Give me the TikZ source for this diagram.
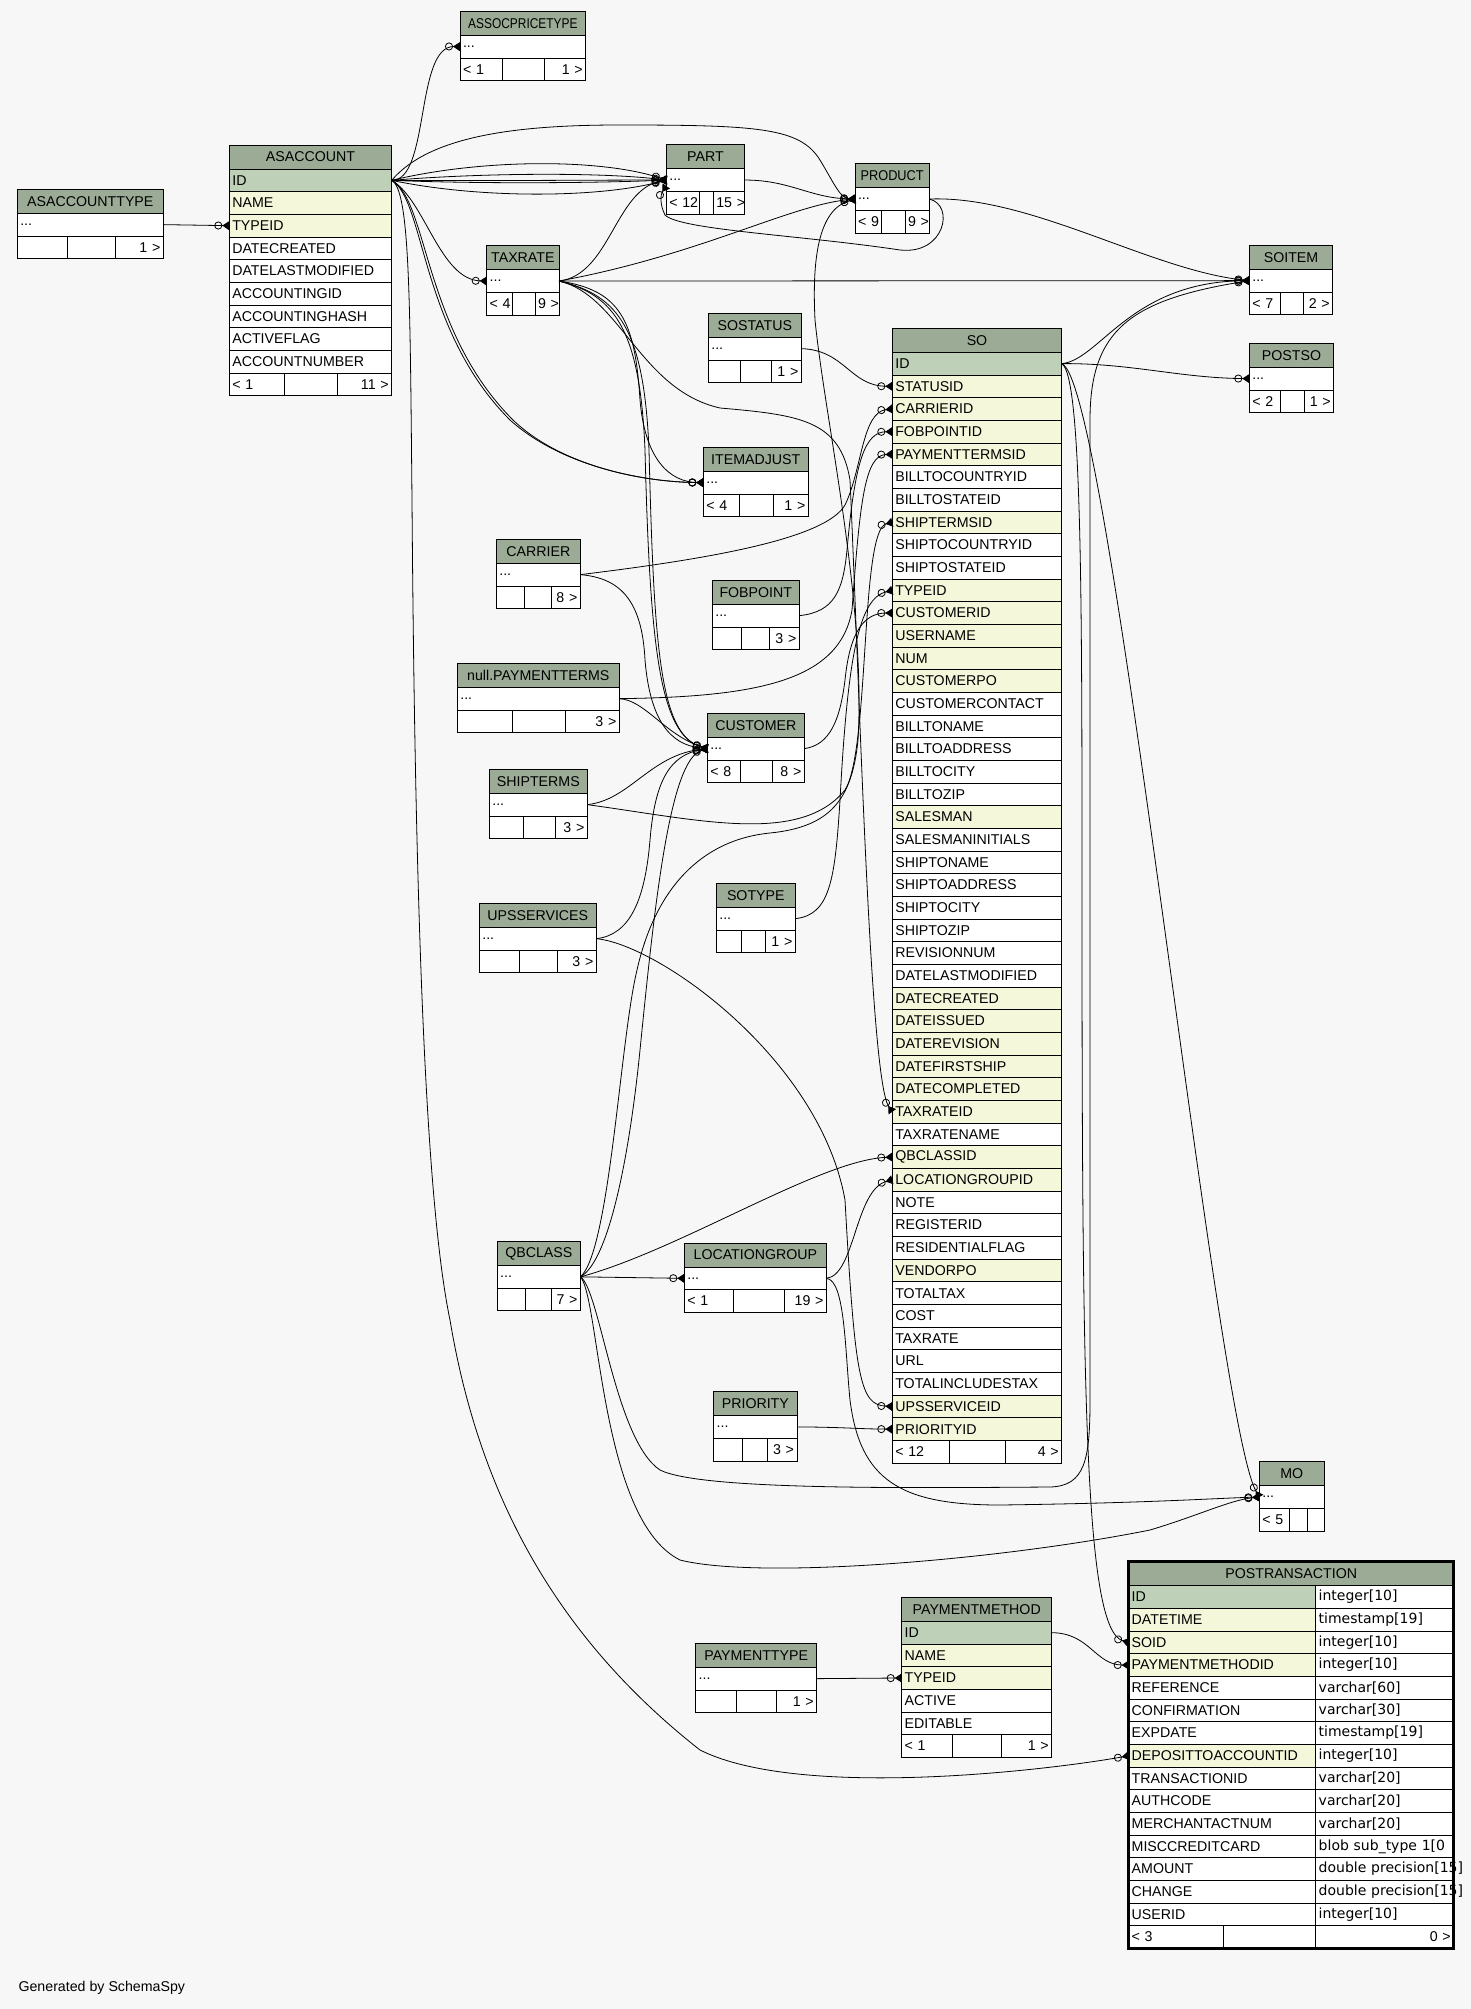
\documentclass[tikz,border=0pt]{standalone}
\usepackage{graphicx}
\usepackage{fontspec}
\setmainfont{Liberation Sans}
\newfontfamily\typefont{DejaVu Sans}
\usetikzlibrary{arrows.meta,positioning}
\definecolor{SchemaBg}{HTML}{F7F7F7}
\definecolor{HeadGreen}{HTML}{9BAB96}
\definecolor{KeyGreen}{HTML}{BED1B8}
\definecolor{IndexYellow}{HTML}{F4F7DA}

% footer of a table: three cells under the node #2
\newcommand\footcells[8]{%
  \pgfmathsetmacro\wa{#4-#3-6}%
  \pgfmathsetmacro\wb{#5-#4-6}%
  \pgfmathsetmacro\wc{#6-#5-6}%
  \node[tblrow,fill=white,text width=\wa pt,anchor=north west] (#1-fl) at (#2.south west) {\mbox{#7}};
  \node[tblrow,fill=white,text width=\wb pt,anchor=west] (#1-fm) at (#1-fl.east) {};
  \node[tblrow,fill=white,text width=\wc pt,align=right,anchor=west] (#1-fr) at (#1-fm.east) {\mbox{#8}};
}
% collapsed table: name, x, y, width, title, dividers, footer texts
\newcommand\minitbl[9]{%
  \pgfmathsetmacro\tw{#4-6}%
  \node[tblhead,text width=\tw pt] (#1) at (#2,#3) {#5};
  \node[tblrow,fill=white,text width=\tw pt,below=0pt of #1] (#1-row) {...};
  \pgfmathsetmacro\rx{#2+#4}%
  \footcells{#1}{#1-row}{#2}{#6}{#7}{\rx}{#8}{#9}%
}

\begin{document}
\begin{tikzpicture}[x=1pt,y=-1pt,
    tblhead/.style={draw,fill=HeadGreen,line width=0.8pt,anchor=north west,
      minimum height=24pt,inner xsep=3pt,inner ysep=0pt,outer sep=0pt,
      align=center,font=\fontsize{14.2}{16}\selectfont},
    tblrow/.style={draw,line width=0.8pt,minimum height=22.67pt,
      inner xsep=3pt,inner ysep=0pt,outer sep=0pt,align=left,
      font=\fontsize{14.2}{16}\selectfont},
    fk/.style={draw,line width=0.8pt,
      -{Circle[open,length=8pt,width=8pt]Triangle[reversed,length=7pt,width=9pt]}}
  ]
  \fill[SchemaBg] (0,0) rectangle (1471,2009);
  \useasboundingbox (0,0) rectangle (1471,2009);

  % collapsed tables
  \minitbl{asacctype}{17.3}{189.3}{146}{ASACCOUNTTYPE}{67.7}{115.7}{}{1 >}
  \minitbl{assocprice}{460}{11.3}{125.7}{\scalebox{0.84}[1]{ASSOCPRICETYPE}}{502}{544.3}{< 1}{1 >}
  \minitbl{part}{666.3}{144.7}{78.4}{PART}{699}{713.3}{< 12}{15 >}
  \minitbl{product}{855}{163.7}{74.3}{\scalebox{0.9}[1]{PRODUCT}}{881}{905}{< 9}{9 >}
  \minitbl{taxrate}{486.7}{245.7}{72.3}{TAXRATE}{512}{535}{< 4}{9 >}
  \minitbl{soitem}{1249.3}{245.3}{83.4}{SOITEM}{1280.3}{1303.7}{< 7}{2 >}
  \minitbl{postso}{1249.3}{343.3}{84.4}{POSTSO}{1280.3}{1304.7}{< 2}{1 >}
  \minitbl{sostatus}{708.3}{313.3}{93}{SOSTATUS}{740.7}{771.7}{}{1 >}
  \minitbl{itemadjust}{703.3}{447.3}{105}{ITEMADJUST}{739.3}{773.3}{< 4}{1 >}
  \minitbl{carrier}{496.3}{539.3}{84}{CARRIER}{524.7}{551.3}{}{8 >}
  \minitbl{fobpoint}{712.3}{580.3}{87}{FOBPOINT}{741.7}{769.3}{}{3 >}
  \minitbl{payterms}{457.3}{663.3}{162}{null.PAYMENTTERMS}{512.3}{565.3}{}{3 >}
  \minitbl{customer}{707.3}{713.3}{97}{CUSTOMER}{740.7}{772.3}{< 8}{8 >}
  \minitbl{shipterms}{489.3}{769.3}{98}{SHIPTERMS}{523.3}{555.3}{}{3 >}
  \minitbl{sotype}{716.3}{883.3}{79}{SOTYPE}{741.7}{765.7}{}{1 >}
  \minitbl{upsservices}{479.3}{903.3}{117}{UPSSERVICES}{519.3}{557.3}{}{3 >}
  \minitbl{qbclass}{497.2}{1241.5}{83.3}{QBCLASS}{525.4}{551}{}{7 >}
  \minitbl{locgroup}{684.3}{1243}{142.2}{LOCATIONGROUP}{733}{784.2}{< 1}{19 >}
  \minitbl{priority}{713.7}{1391.6}{83.3}{PRIORITY}{742}{767.6}{}{3 >}
  \minitbl{mo}{1259.3}{1461.7}{65}{MO}{1289.3}{1307.7}{< 5}{}
  \minitbl{paytype}{695.7}{1643.3}{121}{PAYMENTTYPE}{736.7}{776.7}{}{1 >}

  % ASACCOUNT
  \node[tblhead,text width=156.4pt] (asacct-hdr) at (229.3,145) {ASACCOUNT};
  \foreach \c/\f [remember=\c as \p (initially hdr)] in {ID/KeyGreen,
      NAME/IndexYellow,TYPEID/IndexYellow,DATECREATED/white,
      DATELASTMODIFIED/white,ACCOUNTINGID/white,ACCOUNTINGHASH/white,
      ACTIVEFLAG/white,ACCOUNTNUMBER/white}
    \node[tblrow,fill=\f,text width=156.4pt,below=0pt of asacct-\p] (asacct-\c) {\c};
  \footcells{asacct}{asacct-ACCOUNTNUMBER}{229.3}{284.3}{337.7}{391.7}{< 1}{11 >}

  % SO
  \node[tblhead,text width=163.4pt] (so-hdr) at (892.3,328.3) {SO};
  \foreach \c/\f [remember=\c as \p (initially hdr)] in {ID/KeyGreen,
      STATUSID/IndexYellow,CARRIERID/IndexYellow,FOBPOINTID/IndexYellow,
      PAYMENTTERMSID/IndexYellow,BILLTOCOUNTRYID/white,BILLTOSTATEID/white,
      SHIPTERMSID/IndexYellow,SHIPTOCOUNTRYID/white,SHIPTOSTATEID/white,
      TYPEID/IndexYellow,CUSTOMERID/IndexYellow,USERNAME/IndexYellow,
      NUM/IndexYellow,CUSTOMERPO/IndexYellow,CUSTOMERCONTACT/white,
      BILLTONAME/white,BILLTOADDRESS/white,BILLTOCITY/white,BILLTOZIP/white,
      SALESMAN/IndexYellow,SALESMANINITIALS/white,SHIPTONAME/white,
      SHIPTOADDRESS/white,SHIPTOCITY/white,SHIPTOZIP/white,REVISIONNUM/white,
      DATELASTMODIFIED/white,DATECREATED/IndexYellow,DATEISSUED/IndexYellow,
      DATEREVISION/IndexYellow,DATEFIRSTSHIP/IndexYellow,
      DATECOMPLETED/IndexYellow,TAXRATEID/IndexYellow,TAXRATENAME/white,
      QBCLASSID/IndexYellow,LOCATIONGROUPID/IndexYellow,NOTE/white,
      REGISTERID/white,RESIDENTIALFLAG/white,VENDORPO/IndexYellow,
      TOTALTAX/white,COST/white,TAXRATE/white,URL/white,
      TOTALINCLUDESTAX/white,UPSSERVICEID/IndexYellow,PRIORITYID/IndexYellow}
    \node[tblrow,fill=\f,text width=163.4pt,below=0pt of so-\p] (so-\c) {\c};
  \footcells{so}{so-PRIORITYID}{892.3}{949.3}{1005.7}{1061.7}{< 12}{4 >}

  % PAYMENTMETHOD
  \node[tblhead,text width=144pt] (paymethod-hdr) at (901.7,1597.3) {PAYMENTMETHOD};
  \foreach \c/\f [remember=\c as \p (initially hdr)] in {ID/KeyGreen,
      NAME/IndexYellow,TYPEID/IndexYellow,ACTIVE/white,EDITABLE/white}
    \node[tblrow,fill=\f,text width=144pt,below=0pt of paymethod-\p] (paymethod-\c) {\c};
  \footcells{paymethod}{paymethod-EDITABLE}{901.7}{952.7}{1001.7}{1051.7}{< 1}{1 >}

  % POSTRANSACTION
  \node[tblhead,text width=319pt] (postrans-hdr) at (1128.7,1561.7) {POSTRANSACTION};
  \foreach \c/\f/\t [remember=\c as \p (initially hdr)] in {ID/KeyGreen/integer[10],
      DATETIME/IndexYellow/timestamp[19],SOID/IndexYellow/integer[10],
      PAYMENTMETHODID/IndexYellow/integer[10],REFERENCE/white/varchar[60],
      CONFIRMATION/white/varchar[30],EXPDATE/white/timestamp[19],
      DEPOSITTOACCOUNTID/IndexYellow/integer[10],
      TRANSACTIONID/white/varchar[20],AUTHCODE/white/varchar[20],
      MERCHANTACTNUM/white/varchar[20],MISCCREDITCARD/white/blob sub\_type 1[0,
      AMOUNT/white/double precision[15],CHANGE/white/double precision[15],
      USERID/white/integer[10]}
    {
    \node[tblrow,fill=\f,text width=181pt,anchor=north west] (postrans-\c)
      at (postrans-\p.south west) {\c};
    \node[tblrow,fill=white,text width=132pt,anchor=west] (postrans-\c-type)
      at (postrans-\c.east) {\mbox{\typefont\fontsize{14}{16}\selectfont\t}};
    }
  \footcells{postrans}{postrans-USERID}{1128.7}{1223.3}{1315.7}{1453.7}{< 3}{0 >}
  \draw[line width=3pt] (postrans-hdr.north west) rectangle (postrans-fr.south east);

  % foreign keys
  \draw[fk] (asacctype-row.east) -- (asacct-TYPEID.west);
  \draw[fk] (asacct-ID.east) .. controls (430,181) and (415,46) .. (assocprice-row.west);
  \foreach \b in {-22,-8,0,3,18}
    \draw[fk] (asacct-ID.east) .. controls (480,181+\b) and (600,180+\b) .. (part-row.west);
  \draw[fk] (asacct-ID.east) .. controls (430,135) and (520,125) .. (620,125)
    .. controls (760,125) and (800,128) .. (820,160)
    .. controls (835,185) and (840,198) .. (product-row.west);
  \draw[fk] (asacct-ID.east) .. controls (425,200) and (440,280) .. (taxrate-row.west);
  \foreach \d in {0,3}
    \draw[fk] (asacct-ID.east) .. controls (425+\d,200) and (420+\d,330) .. (510+\d,420)
      .. controls (560,465) and (640,482) .. (itemadjust-row.west);
  \draw[fk] (asacct-ID.east) .. controls (410,190) and (410,300) .. (412,500)
    .. controls (415,900) and (425,1200) .. (450,1320)
    .. controls (480,1500) and (560,1640) .. (700,1750)
    .. controls (800,1800) and (1050,1770) .. (postrans-DEPOSITTOACCOUNTID.west);

  \draw[fk] (taxrate-row.east) .. controls (610,275) and (615,190) .. (part-row.west);
  \draw[fk] (taxrate-row.east) .. controls (700,255) and (790,205) .. (product-row.west);
  \draw[fk] (taxrate-row.east) -- (soitem-row.west);
  \draw[fk] (taxrate-row.east) .. controls (620,290) and (635,320) .. (640,400)
    .. controls (645,460) and (670,482) .. (itemadjust-row.west);
  \foreach \d in {0,4}
    \draw[fk] (taxrate-row.east) .. controls (615+\d,295) and (640+\d,330) .. (645+\d,450)
      .. controls (650+\d,650) and (660,735) .. (customer-row.west);
  \draw[fk] (taxrate-row.east) .. controls (620,295) and (640,390) .. (720,408)
    .. controls (800,415) and (840,420) .. (850,480)
    .. controls (860,700) and (870,1080) .. (so-TAXRATEID.west);

  \draw[fk] (part-row.east) .. controls (790,180) and (810,198) .. (product-row.west);
  \draw[fk] (product-row.east) .. controls (955,205) and (945,255) .. (900,250)
    .. controls (800,235) and (680,230) .. (665,215)
    .. controls (660,205) and (660,195) .. ([yshift=-6pt]part-row.west);
  \draw[fk] (product-row.east) .. controls (1030,195) and (1150,270) .. (soitem-row.west);

  \draw[fk] (so-ID.east) .. controls (1100,360) and (1130,282) .. (soitem-row.west);
  \draw[fk] (so-ID.east) .. controls (1130,363) and (1180,378) .. (postso-row.west);
  \draw[fk] (so-ID.east) .. controls (1110,380) and (1215,1420) .. (mo-row.west);
  \draw[fk] (so-ID.east) .. controls (1082,375) and (1082,600) .. (1082,900)
    .. controls (1082,1400) and (1085,1630) .. (postrans-SOID.west);

  \draw[fk] (sostatus-row.east) .. controls (845,350) and (850,386) .. (so-STATUSID.west);
  \draw[fk] (carrier-row.east) .. controls (700,560) and (825,540) .. (845,505)
    .. controls (862,470) and (862,412) .. (so-CARRIERID.west);
  \draw[fk] (carrier-row.east) .. controls (620,578) and (642,600) .. (645,660)
    .. controls (650,720) and (670,745) .. (customer-row.west);
  \draw[fk] (fobpoint-row.east) .. controls (835,612) and (843,590) .. (847,550)
    .. controls (855,460) and (865,432) .. (so-FOBPOINTID.west);
  \draw[fk] (payterms-row.east) .. controls (760,697) and (840,680) .. (852,610)
    .. controls (860,500) and (865,455) .. (so-PAYMENTTERMSID.west);
  \draw[fk] (payterms-row.east) .. controls (645,700) and (665,735) .. (customer-row.west);
  \draw[fk] (shipterms-row.east) .. controls (700,820) and (800,845) .. (845,790)
    .. controls (870,750) and (860,530) .. (so-SHIPTERMSID.west);
  \draw[fk] (shipterms-row.east) .. controls (630,800) and (650,755) .. (customer-row.west);
  \draw[fk] (sotype-row.east) .. controls (830,915) and (835,880) .. (840,800)
    .. controls (848,650) and (860,598) .. (so-TYPEID.west);
  \draw[fk] (customer-row.east) .. controls (830,745) and (840,720) .. (845,680)
    .. controls (850,630) and (865,613) .. (so-CUSTOMERID.west);
  \draw[fk] (upsservices-row.east) .. controls (630,935) and (645,900) .. (650,840)
    .. controls (655,780) and (670,755) .. (customer-row.west);
  \draw[fk] (upsservices-row.east) .. controls (660,945) and (820,1060) .. (845,1200)
    .. controls (855,1380) and (860,1405) .. (so-UPSSERVICEID.west);

  \draw[fk] (qbclass-row.east) .. controls (680,1250) and (820,1160) .. (so-QBCLASSID.west);
  \draw[fk] (qbclass-row.east) -- (locgroup-row.west);
  \draw[fk] (qbclass-row.east) .. controls (610,1260) and (630,1150) .. (640,1050)
    .. controls (655,900) and (670,760) .. (customer-row.west);
  \draw[fk] (qbclass-row.east) .. controls (610,1250) and (620,1040) .. (637,970)
    .. controls (655,890) and (700,840) .. (770,833)
    .. controls (830,827) and (852,800) .. (858,740)
    .. controls (866,600) and (825,420) .. (815,320)
    .. controls (812,260) and (818,210) .. (product-row.west);
  \draw[fk] (qbclass-row.east) .. controls (600,1290) and (615,1440) .. (660,1470)
    .. controls (700,1490) and (900,1488) .. (1050,1487)
    .. controls (1085,1486) and (1090,1460) .. (1090,1400) -- (1090,420)
    .. controls (1090,330) and (1130,300) .. (soitem-row.west);
  \draw[fk] (qbclass-row.east) .. controls (600,1300) and (600,1520) .. (680,1560)
    .. controls (760,1580) and (1000,1560) .. (1150,1530)
    .. controls (1200,1515) and (1230,1500) .. (mo-row.west);
  \draw[fk] (locgroup-row.east) .. controls (855,1275) and (855,1190) .. (so-LOCATIONGROUPID.west);
  \draw[fk] (locgroup-row.east) .. controls (845,1280) and (845,1350) .. (850,1400)
    .. controls (860,1480) and (900,1505) .. (1000,1505)
    .. controls (1150,1503) and (1220,1498) .. (mo-row.west);
  \draw[fk] (priority-row.east) .. controls (840,1427) and (860,1429) .. (so-PRIORITYID.west);
  \draw[fk] (paytype-row.east) -- (paymethod-TYPEID.west);
  \draw[fk] (paymethod-ID.east) .. controls (1090,1633) and (1095,1665) .. (postrans-PAYMENTMETHODID.west);

  \node[anchor=west,font=\fontsize{14.2}{16}\selectfont] (credit) at (15,1988) {Generated by SchemaSpy};
\end{tikzpicture}
\end{document}
